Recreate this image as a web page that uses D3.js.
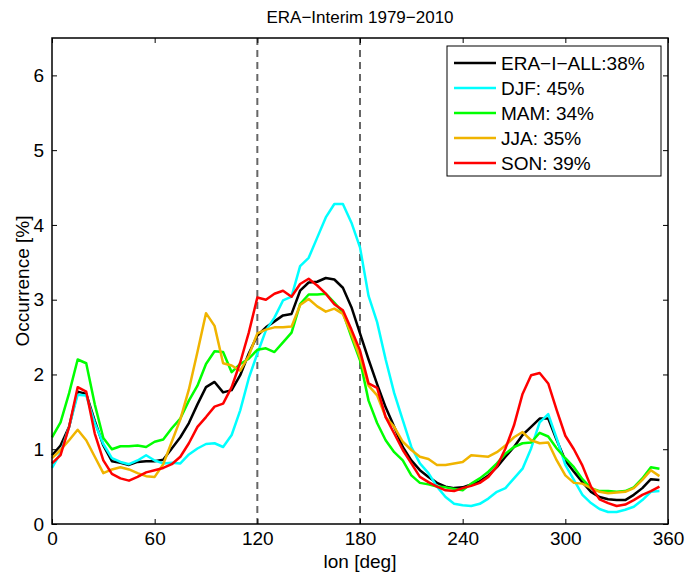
<!DOCTYPE html>
<html>
<head>
<meta charset="utf-8">
<script src="https://cdn.jsdelivr.net/npm/d3@7"></script>
<style>
  body { margin: 0; background: #fff; }
  svg { font-family: "Liberation Sans", Arial, sans-serif; }
</style>
</head>
<body>
<script>
// longitude grid, 5 degree steps
const lons = d3.range(0, 360, 5);

const allVals = [0.92, 1.05, 1.3, 1.77, 1.74, 1.38, 1.05, 0.84, 0.82, 0.79, 0.83, 0.84,
  0.84, 0.86, 1.01, 1.16, 1.35, 1.6, 1.83, 1.9, 1.76, 1.79, 1.99, 2.28,
  2.52, 2.63, 2.71, 2.79, 2.81, 3.12, 3.23, 3.24, 3.29, 3.27, 3.16, 2.9,
  2.55, 2.2, 1.87, 1.56, 1.3, 1.03, 0.85, 0.72, 0.63, 0.55, 0.5, 0.48,
  0.49, 0.53, 0.57, 0.65, 0.76, 0.9, 1.03, 1.19, 1.3, 1.41, 1.41, 1.12,
  0.85, 0.7, 0.56, 0.43, 0.36, 0.33, 0.32, 0.32, 0.39, 0.48, 0.6, 0.59];

const djfVals = [0.75, 0.95, 1.3, 1.73, 1.72, 1.35, 1.07, 0.88, 0.83, 0.8, 0.85, 0.92,
  0.85, 0.81, 0.82, 0.81, 0.93, 1.01, 1.07, 1.08, 1.03, 1.19, 1.52, 1.95,
  2.28, 2.59, 2.76, 2.99, 3.04, 3.45, 3.56, 3.83, 4.1, 4.28, 4.28, 4.03,
  3.7, 3.05, 2.7, 2.2, 1.75, 1.39, 1.03, 0.81, 0.68, 0.5, 0.36, 0.27,
  0.25, 0.24, 0.27, 0.34, 0.43, 0.48, 0.61, 0.74, 1.01, 1.36, 1.47, 1.14,
  0.79, 0.59, 0.39, 0.28, 0.2, 0.16, 0.16, 0.19, 0.23, 0.32, 0.43, 0.44];

const mamVals = [1.16, 1.36, 1.75, 2.2, 2.15, 1.6, 1.15, 1.0, 1.04, 1.04, 1.05, 1.03,
  1.1, 1.13, 1.28, 1.41, 1.65, 1.85, 2.14, 2.31, 2.3, 2.03, 2.14, 2.21,
  2.33, 2.35, 2.3, 2.43, 2.56, 2.94, 3.07, 3.07, 3.08, 2.96, 2.83, 2.5,
  2.19, 1.65, 1.35, 1.12, 0.96, 0.85, 0.65, 0.55, 0.53, 0.5, 0.49, 0.47,
  0.45, 0.54, 0.61, 0.7, 0.81, 0.94, 1.03, 1.08, 1.09, 1.22, 1.17, 1.01,
  0.88, 0.76, 0.6, 0.48, 0.44, 0.44, 0.43, 0.44, 0.49, 0.61, 0.76, 0.74];

const jjaVals = [0.88, 0.99, 1.12, 1.26, 1.12, 0.9, 0.68, 0.73, 0.76, 0.73, 0.68, 0.64,
  0.63, 0.8, 1.1, 1.4, 1.8, 2.3, 2.82, 2.65, 2.15, 2.12, 2.05, 2.25,
  2.55, 2.6, 2.63, 2.63, 2.64, 2.93, 3.01, 2.91, 2.84, 2.88, 2.81, 2.54,
  2.23, 1.85, 1.72, 1.43, 1.3, 1.1, 0.99, 0.9, 0.87, 0.79, 0.79, 0.81,
  0.83, 0.92, 0.91, 0.9, 0.96, 1.05, 1.16, 1.23, 1.12, 1.08, 1.09, 0.85,
  0.65, 0.55, 0.54, 0.48, 0.43, 0.41, 0.42, 0.43, 0.48, 0.59, 0.72, 0.64];

const sonVals = [0.81, 0.92, 1.3, 1.83, 1.77, 1.21, 0.85, 0.67, 0.61, 0.58, 0.63, 0.69,
  0.72, 0.75, 0.8, 0.9, 1.08, 1.3, 1.43, 1.57, 1.61, 1.83, 2.16, 2.56,
  3.03, 3.0, 3.08, 3.12, 3.04, 3.21, 3.28, 3.19, 3.08, 2.94, 2.86, 2.6,
  2.32, 1.88, 1.82, 1.43, 1.21, 0.99, 0.81, 0.63, 0.56, 0.5, 0.45, 0.44,
  0.48, 0.51, 0.55, 0.63, 0.77, 1.01, 1.32, 1.74, 1.99, 2.02, 1.88, 1.52,
  1.18, 1.0, 0.78, 0.5, 0.33, 0.28, 0.24, 0.26, 0.32, 0.39, 0.44, 0.5];

const seriesNames = ['ERA\u2212I\u2212ALL:38%', 'DJF: 45%', 'MAM: 34%', 'JJA: 35%', 'SON: 39%'];
const seriesColors = ['#000000', '#00ffff', '#00ff00', '#f0b400', '#ff0000'];
const seriesVals = [allVals, djfVals, mamVals, jjaVals, sonVals];

const xTicks = [0, 60, 120, 180, 240, 300, 360];
const yTicks = [0, 1, 2, 3, 4, 5, 6];
const sectorLons = [120, 180];

const w = 685;
const h = 572;
const pL = 52, pR = 668, pT = 38, pB = 524;

const svg = d3.select('body').append('svg').attr('width', w).attr('height', h);

const xScale = d3.scaleLinear().domain([0, 360]).range([pL, pR]);
const yScale = d3.scaleLinear().domain([0, 6.5]).range([pB, pT]);

// dashed sector lines
svg.selectAll('.sector').data(sectorLons).enter().append('line')
  .attr('x1', d => xScale(d)).attr('x2', d => xScale(d))
  .attr('y1', pT).attr('y2', pB)
  .attr('stroke', '#666').attr('stroke-width', 2)
  .attr('stroke-dasharray', '7,5');

const line = d3.line().x((d, i) => xScale(lons[i])).y(d => yScale(d));

svg.selectAll('.series').data(seriesVals).enter().append('path')
  .attr('d', d => line(d))
  .attr('fill', 'none')
  .attr('stroke', (d, i) => seriesColors[i])
  .attr('stroke-width', 2.5)
  .attr('stroke-linejoin', 'round');

// axes, ticks pointing inward like matlab
const xAxis = d3.axisBottom(xScale).tickValues(xTicks).tickFormat(d3.format('d'))
  .tickSizeInner(-5).tickSizeOuter(0).tickPadding(8);
const yAxis = d3.axisLeft(yScale).tickValues(yTicks).tickFormat(d3.format('d'))
  .tickSizeInner(-5).tickSizeOuter(0).tickPadding(8);

const gx = svg.append('g').attr('transform', 'translate(0,' + pB + ')').call(xAxis);
const gy = svg.append('g').attr('transform', 'translate(' + pL + ',0)').call(yAxis);
const gxt = svg.append('g').attr('transform', 'translate(0,' + pT + ')')
  .call(d3.axisTop(xScale).tickValues(xTicks).tickSizeInner(-5).tickSizeOuter(0).tickFormat(''));
const gyr = svg.append('g').attr('transform', 'translate(' + pR + ',0)')
  .call(d3.axisRight(yScale).tickValues(yTicks).tickSizeInner(-5).tickSizeOuter(0).tickFormat(''));

[gx, gy, gxt, gyr].forEach(g => {
  g.selectAll('.domain').remove();
  g.selectAll('line').attr('stroke', '#000').attr('stroke-width', 1);
  g.selectAll('text').attr('font-size', 19).attr('fill', '#000').attr('font-family', '"Liberation Sans", Arial, sans-serif');
});

svg.append('rect').attr('x', pL).attr('y', pT)
  .attr('width', pR - pL).attr('height', pB - pT)
  .attr('fill', 'none').attr('stroke', '#000').attr('stroke-width', 1.5);

// legend
const lg = svg.append('g');
lg.append('rect').attr('x', 447).attr('y', 46).attr('width', 214).attr('height', 130)
  .attr('fill', '#fff').attr('stroke', '#000').attr('stroke-width', 1);

const rows = lg.selectAll('.row').data(seriesNames).enter().append('g')
  .attr('transform', (d, i) => 'translate(0,' + (63 + i * 25) + ')');
rows.append('line').attr('x1', 454).attr('x2', 496).attr('y1', 0).attr('y2', 0)
  .attr('stroke', (d, i) => seriesColors[i]).attr('stroke-width', 2.5);
rows.append('text').attr('x', 501).attr('y', 0).attr('dy', '0.35em')
  .attr('font-size', 19).text(d => d);

// titles
svg.append('text').attr('x', (pL + pR) / 2).attr('y', 17).attr('dy', '0.35em')
  .attr('text-anchor', 'middle').attr('font-size', 17).text('ERA\u2212Interim 1979\u22122010');

svg.append('text').attr('x', (pL + pR) / 2).attr('y', 561).attr('dy', '0.35em')
  .attr('text-anchor', 'middle').attr('font-size', 19).text('lon [deg]');

svg.append('text').attr('transform', 'translate(22,' + ((pT + pB) / 2) + ') rotate(-90)')
  .attr('dy', '0.35em').attr('text-anchor', 'middle').attr('font-size', 19).text('Occurrence [%]');
</script>
</body>
</html>
